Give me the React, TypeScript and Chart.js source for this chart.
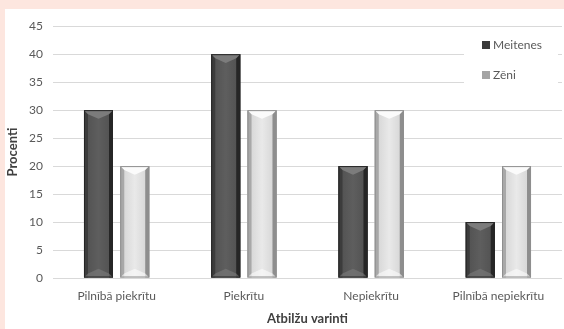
import React, { useEffect, useRef } from "react";
import { Chart, registerables } from "chart.js";

Chart.register(...registerables);

const categories = ["Pilnībā piekrītu", "Piekrītu", "Nepiekrītu", "Pilnībā nepiekrītu"];
const seriesNames = ["Meitenes", "Zēni"];
const meitenes = [30, 40, 20, 10];
const zeni = [20, 30, 30, 20];
const yTitle = "Procenti";
const xTitle = "Atbilžu varinti";

const FONT = "Lato, 'Liberation Sans', sans-serif";

const palettes = [
  { base: "#545454", left: "#3c3c3c", right: "#262626", mid: "#5e5e5e", bevel: "#7c7c7c", marker: "#3a3a3a" },
  { base: "#d9d9d9", left: "#a8a8a8", right: "#8e8e8e", mid: "#e9e9e9", bevel: "#fbfbfb", marker: "#a4a4a4" },
];

const bevelPlugin = {
  id: "bevel",
  afterDatasetsDraw(chart: any) {
    const ctx = chart.ctx;
    chart.data.datasets.forEach((_: any, di: number) => {
      const meta = chart.getDatasetMeta(di);
      const p = palettes[di];
      meta.data.forEach((el: any) => {
        const { x, y, base, width } = el.getProps(["x", "y", "base", "width"], true);
        const l = x - width / 2;
        const r = x + width / 2;
        const t = Math.min(y, base);
        const b = Math.max(y, base);
        const e = Math.min(4, width / 6);
        ctx.save();
        const g = ctx.createLinearGradient(l, 0, r, 0);
        g.addColorStop(0, p.left);
        g.addColorStop(0.15, p.base);
        g.addColorStop(0.5, p.mid);
        g.addColorStop(0.85, p.base);
        g.addColorStop(1, p.right);
        ctx.fillStyle = g;
        ctx.fillRect(l, t, width, b - t);
        ctx.fillStyle = p.left;
        ctx.fillRect(l, t, e, b - t);
        ctx.fillStyle = p.right;
        ctx.fillRect(r - e, t, e, b - t);
        const tip = Math.min(width * 0.3, (b - t) / 2);
        ctx.beginPath();
        ctx.moveTo(l, t);
        ctx.lineTo(r, t);
        ctx.lineTo(r - e, t + e);
        ctx.lineTo(x, t + tip);
        ctx.lineTo(l + e, t + e);
        ctx.closePath();
        ctx.fillStyle = p.bevel;
        ctx.fill();
        ctx.beginPath();
        ctx.moveTo(l, b);
        ctx.lineTo(r, b);
        ctx.lineTo(r - e, b - e);
        ctx.lineTo(x, b - tip);
        ctx.lineTo(l + e, b - e);
        ctx.closePath();
        ctx.globalAlpha = 0.6;
        ctx.fillStyle = p.bevel;
        ctx.fill();
        ctx.globalAlpha = 1;
        ctx.strokeStyle = p.right;
        ctx.lineWidth = 1;
        ctx.strokeRect(l + 0.5, t + 0.5, width - 1, b - t - 1);
        ctx.restore();
      });
    });
  },
};

const legendPlugin = {
  id: "overlayLegend",
  afterDraw(chart: any) {
    const ctx = chart.ctx;
    ctx.save();
    ctx.fillStyle = "#ffffff";
    ctx.fillRect(459, 24, 94, 58);
    chart.data.datasets.forEach((ds: any, i: number) => {
      const cy = 36 + i * 30;
      ctx.fillStyle = palettes[i].marker;
      ctx.fillRect(477, cy - 4, 8, 8);
      ctx.fillStyle = "#595959";
      ctx.font = `12px ${FONT}`;
      ctx.textBaseline = "middle";
      ctx.textAlign = "left";
      ctx.fillText(ds.label, 488, cy);
    });
    ctx.restore();
  },
};

export default function App() {
  const ref = useRef<HTMLCanvasElement>(null);
  useEffect(() => {
    document.body.style.margin = "0";
    const chart = new Chart(ref.current as HTMLCanvasElement, {
      type: "bar",
      data: {
        labels: categories,
        datasets: [
          { label: seriesNames[0], data: meitenes, backgroundColor: palettes[0].base },
          { label: seriesNames[1], data: zeni, backgroundColor: palettes[1].base },
        ],
      },
      options: {
        animation: false,
        responsive: false,
        devicePixelRatio: 1,
        layout: { padding: { top: 10, right: 2, left: 0, bottom: 0 } },
        datasets: { bar: { categoryPercentage: 0.57, barPercentage: 0.8 } },
        plugins: { legend: { display: false }, tooltip: { enabled: false } },
        scales: {
          x: {
            afterFit: (s: any) => { s.height = 51; },
            grid: { display: false, drawTicks: false },
            border: { display: false },
            ticks: { color: "#595959", font: { family: FONT, size: 12 }, padding: 11, maxRotation: 0 },
            title: { display: true, text: xTitle, color: "#404040", font: { family: FONT, size: 13, weight: "bold" }, padding: { top: 0, bottom: 2 } },
          },
          y: {
            min: 0,
            max: 45,
            afterFit: (s: any) => { s.width = 48; },
            grid: { color: "#d9d9d9", drawTicks: false },
            border: { display: false },
            ticks: { stepSize: 5, color: "#595959", font: { family: FONT, size: 12 }, padding: 10 },
            title: { display: true, text: yTitle, color: "#404040", font: { family: FONT, size: 13, weight: "bold" }, padding: { top: 0, bottom: 0 } },
          },
        },
      },
      plugins: [bevelPlugin, legendPlugin],
    } as any);
    return () => chart.destroy();
  }, []);
  return (
    <div style={{ position: "relative", width: 564, height: 329, background: "#fde6df", overflow: "hidden" }}>
      <div style={{ position: "absolute", left: 5, top: 9, width: 559, height: 320, background: "#ffffff" }}>
        <canvas ref={ref} width={559} height={320} style={{ display: "block" }} />
      </div>
    </div>
  );
}
